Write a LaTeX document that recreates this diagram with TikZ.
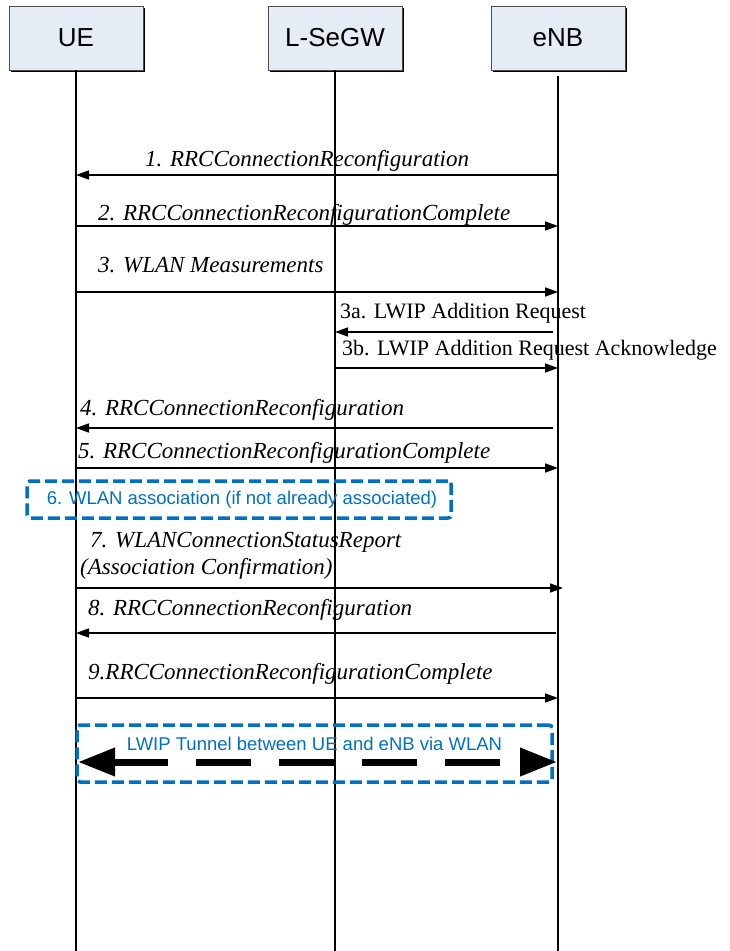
\documentclass[tikz,border=0pt]{standalone}
\usepackage{fontspec}
\setmainfont{Liberation Serif}
\newfontfamily\arialfont{Liberation Sans}
\usetikzlibrary{arrows.meta,shadows}
\definecolor{actorfill}{RGB}{230,236,246}
\definecolor{wlanblue}{RGB}{0,112,192}
\begin{document}
\begin{tikzpicture}[x=1pt,y=-1pt,
  actor/.style={draw=black!70, line width=0.8pt, fill=actorfill,
    minimum width=134pt, minimum height=64pt, inner sep=0pt,
    font=\arialfont\fontsize{26}{30}\selectfont,
    drop shadow={shadow xshift=2pt, shadow yshift=-2pt, fill=black, opacity=1}},
  life/.style={line width=2pt, black},
  msg/.style={line width=1.6pt, -{Triangle[length=13pt, width=9pt]}},
  lbl/.style={anchor=base west, inner sep=0pt, font=\fontsize{23}{27}\selectfont\itshape},
  lblup/.style={anchor=base west, inner sep=0pt, font=\fontsize{22}{26}\selectfont},
  wlanbox/.style={draw=wlanblue, line width=3.5pt, dash pattern=on 12pt off 5pt,
    rounded corners=3pt, inner sep=0pt},
  wlantext/.style={text=wlanblue, inner sep=0pt, font=\arialfont\fontsize{18.5}{21}\selectfont},
  tunnel/.style={line width=7pt, dash pattern=on 55pt off 28pt,
    {Triangle[length=37pt, width=27pt]}-{Triangle[length=37pt, width=27pt]}}
]
\useasboundingbox (0,0) rectangle (729,951);

% actors
\node[actor] (ue)  at (76,38)  {UE};
\node[actor] (gw)  at (335,38) {L-SeGW};
\node[actor] (enb) at (558,38) {eNB};

% lifelines
\coordinate (ueEnd)  at (76,951);
\coordinate (gwEnd)  at (335,951);
\coordinate (enbTop) at (558,76);
\coordinate (enbEnd) at (558,951);
\draw[life] (ue.south) -- (ueEnd);
\draw[life] (gw.south) -- (gwEnd);
\draw[life] (enbTop) -- (enbEnd);

% message end points
\coordinate (u1) at (76,175);  \coordinate (e1) at (558,175);
\coordinate (u2) at (76,226);  \coordinate (e2) at (558,226);
\coordinate (u3) at (76,292);  \coordinate (e3) at (558,292);
\coordinate (g3a) at (335,332); \coordinate (e3a) at (553,332);
\coordinate (g3b) at (335,368); \coordinate (e3b) at (558,368);
\coordinate (u4) at (76,428);  \coordinate (e4) at (553,428);
\coordinate (u5) at (76,468);  \coordinate (e5) at (558,468);
\coordinate (u7) at (76,588);  \coordinate (e7) at (563,588);
\coordinate (u8) at (76,633);  \coordinate (e8) at (556,633);
\coordinate (u9) at (76,698);  \coordinate (e9) at (558,698);

% messages
\draw[msg] (e1) -- (u1);
\node[lbl] (l1) at (145,166) {1. RRCConnectionReconfiguration};
\draw[msg] (u2) -- (e2);
\node[lbl] (l2) at (98,220) {2. RRCConnectionReconfigurationComplete};
\draw[msg] (u3) -- (e3);
\node[lbl] (l3) at (98,272) {3. WLAN Measurements};
\draw[msg] (e3a) -- (g3a);
\node[lblup] (l3a) at (340,318) {3a. LWIP Addition Request};
\draw[msg] (g3b) -- (e3b);
\node[lblup] (l3b) at (342,355) {3b. LWIP Addition Request Acknowledge};
\draw[msg] (e4) -- (u4);
\node[lbl] (l4) at (80,415) {4. RRCConnectionReconfiguration};
\draw[msg] (u5) -- (e5);
\node[lbl] (l5) at (78,458) {5. RRCConnectionReconfigurationComplete};

% step 6
\node[wlanbox, minimum width=424pt, minimum height=37pt] (wa) at (239,499.5) {};
\node[wlantext] (wat) at (242,500) {6. WLAN association (if not already associated)};

\draw[msg] (u7) -- (e7);
\node[lbl] (l7a) at (90,547) {7. WLANConnectionStatusReport};
\node[lbl] (l7b) at (80,574) {(Association Confirmation)};
\draw[msg] (e8) -- (u8);
\node[lbl] (l8) at (88,615) {8. RRCConnectionReconfiguration};
\draw[msg] (u9) -- (e9);
\node[lbl] (l9) at (88,679) {9.RRCConnectionReconfigurationComplete};

% tunnel
\node[wlanbox, minimum width=475pt, minimum height=57pt] (tun) at (314.5,753.5) {};
\node[wlantext] (tunt) at (314.5,744) {LWIP Tunnel between UE and eNB via WLAN};
\coordinate (tl) at (78,762);
\coordinate (tr) at (557,762);
\draw[tunnel] (tl) -- (tr);
\end{tikzpicture}
\end{document}
